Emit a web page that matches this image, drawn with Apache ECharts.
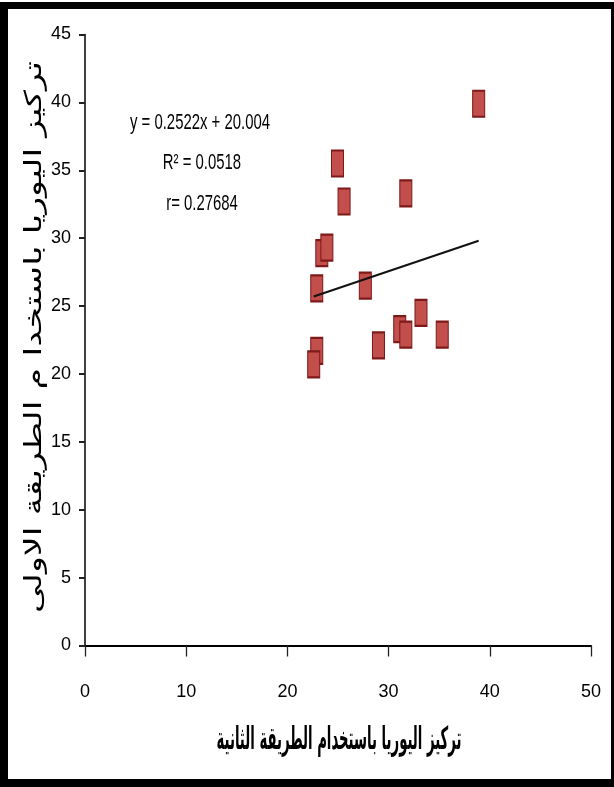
<!DOCTYPE html>
<html>
<head>
<meta charset="utf-8">
<script src="https://cdn.jsdelivr.net/npm/echarts@6/dist/echarts.min.js"></script>
<style>
  html, body { margin: 0; padding: 0; background: #fff; width: 614px; height: 787px; overflow: hidden; }
  #frame { position: absolute; left: 0; top: 2px; width: 614px; height: 785px; background: #000; }
  #chart { position: absolute; left: 8px; top: 9px; width: 603px; height: 770px; background: #fff; }
</style>
</head>
<body>
<div id="frame"></div>
<div id="chart"></div>
<script>
// ---- data ----
const xValues = [38.9, 24.95, 25.6, 31.7, 23.4, 23.9, 22.9, 27.7, 33.2, 31.1, 31.7, 35.3, 29.0, 22.9, 22.6];
const yValues = [39.9, 35.5, 32.7, 33.3, 28.9, 29.3, 26.3, 26.5, 24.5, 23.3, 22.9, 22.9, 22.1, 21.7, 20.7];
const slope = 0.2522;
const intercept = 20.004;
const annotationLines = ["y = 0.2522x + 20.004", "R\u00B2 = 0.0518", "r= 0.27684"];
const xAxisTitle = "تركيز اليوريا باستخدام الطريقة الثانية";
const yAxisTitle = "تركيز اليوريا باستخدا م الطريقة الاولى";
const xTicks = { min: 0, max: 50, interval: 10 };
const yTicks = { min: 0, max: 45, interval: 5 };

const points = xValues.map((x, i) => [x, yValues[i]]);
const xMin = Math.min(...xValues), xMax = Math.max(...xValues);
const trend = [[xMin, slope * xMin + intercept], [xMax, slope * xMax + intercept]];

const tickFont = "'Liberation Sans Narrow', 'Liberation Sans', Arial, sans-serif";
const titleFont = "'DejaVu Sans', sans-serif";

function measure(text, font) {
  const c = document.createElement('canvas').getContext('2d');
  c.font = font;
  return c.measureText(text).width;
}
const xTitleW = measure(xAxisTitle, "bold 18px " + titleFont);
const yTitleW = measure(yAxisTitle, "18px " + titleFont);
const annW = measure(annotationLines[0], "18px " + tickFont);

const chart = echarts.init(document.getElementById('chart'), null, { renderer: 'canvas' });
chart.setOption({
  animation: false,
  backgroundColor: '#fff',
  grid: { left: 77, right: 20, top: 25.5, bottom: 133.5 },
  xAxis: {
    type: 'value', min: xTicks.min, max: xTicks.max, interval: xTicks.interval,
    splitLine: { show: false },
    axisLine: { onZero: false, lineStyle: { color: '#000', width: 2.2 } },
    axisTick: { show: true, length: 11, lineStyle: { color: '#222', width: 1.3 } },
    axisLabel: { color: '#000', fontSize: 18, fontFamily: tickFont, margin: 38 }
  },
  yAxis: {
    type: 'value', min: yTicks.min, max: yTicks.max, interval: yTicks.interval,
    splitLine: { show: false },
    axisLine: { onZero: false, lineStyle: { color: '#000', width: 1.5 } },
    axisTick: { show: true, length: 6, lineStyle: { color: '#222', width: 2 } },
    axisLabel: { color: '#000', fontSize: 18, fontFamily: tickFont, margin: 14 }
  },
  series: [
    {
      type: 'scatter',
      data: points,
      symbol: 'rect',
      symbolSize: [12, 26],
      itemStyle: { color: '#c24f4b', borderColor: '#7e1a1a', borderWidth: 1.5, opacity: 1 },
      z: 2
    },
    {
      type: 'line',
      data: trend,
      symbol: 'none',
      lineStyle: { color: '#111', width: 2 },
      z: 3
    }
  ],
  graphic: [
    ...annotationLines.map((t, i) => ({
      type: 'text',
      x: [192, 194, 194][i], y: [114, 154, 195][i],
      scaleX: 140 / annW, scaleY: 1.25,
      style: { text: t, fill: '#000', font: '18px ' + tickFont, textAlign: 'center', textVerticalAlign: 'middle' }
    })),
    {
      type: 'text', x: 331, y: 732,
      scaleX: 245 / xTitleW, scaleY: 1.75,
      style: { text: xAxisTitle, fill: '#000', font: 'bold 18px ' + titleFont, textAlign: 'center', textVerticalAlign: 'middle' }
    },
    {
      type: 'text', x: 27, y: 328,
      rotation: Math.PI / 2,
      scaleX: 552 / yTitleW, scaleY: 1.3,
      style: { text: yAxisTitle, fill: '#000', font: '18px ' + titleFont, textAlign: 'center', textVerticalAlign: 'middle' }
    }
  ]
});
</script>
</body>
</html>
